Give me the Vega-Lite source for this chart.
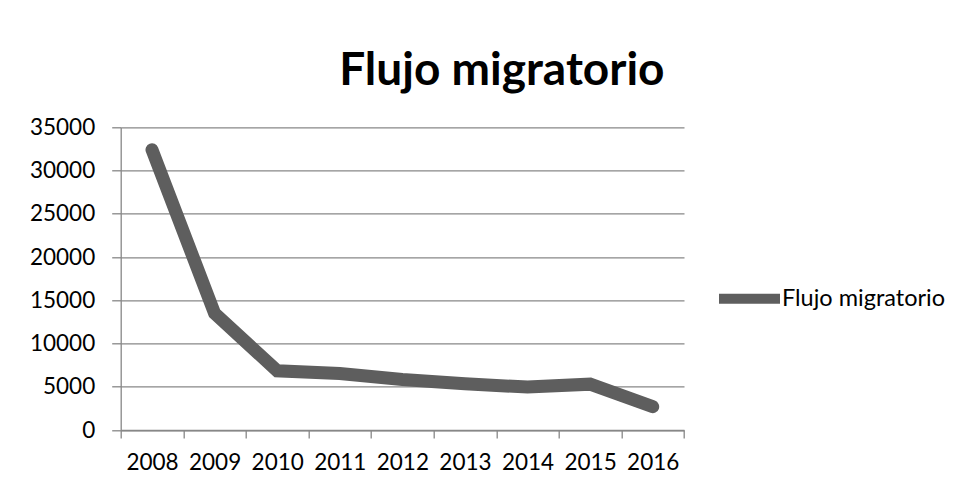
{
  "$schema": "https://vega.github.io/schema/vega-lite/v6.json",
  "autosize": "none",
  "width": 563.3,
  "height": 302.7,
  "padding": {"left": 120.7, "top": 127.3, "right": 283, "bottom": 58},
  "background": "white",
  "title": {
    "text": "Flujo migratorio",
    "font": "Lato",
    "fontSize": 46,
    "fontWeight": "bold",
    "color": "#000000",
    "anchor": "middle",
    "dx": 99.5,
    "baseline": "alphabetic",
    "offset": -15
  },
  "data": {
    "values": [
      {"anio": "2008", "valor": 32400, "serie": "Flujo migratorio"},
      {"anio": "2009", "valor": 13500, "serie": "Flujo migratorio"},
      {"anio": "2010", "valor": 6850, "serie": "Flujo migratorio"},
      {"anio": "2011", "valor": 6540, "serie": "Flujo migratorio"},
      {"anio": "2012", "valor": 5850, "serie": "Flujo migratorio"},
      {"anio": "2013", "valor": 5350, "serie": "Flujo migratorio"},
      {"anio": "2014", "valor": 4960, "serie": "Flujo migratorio"},
      {"anio": "2015", "valor": 5300, "serie": "Flujo migratorio"},
      {"anio": "2016", "valor": 2690, "serie": "Flujo migratorio"}
    ]
  },
  "mark": {"type": "line", "strokeWidth": 13, "strokeCap": "round", "strokeJoin": "miter"},
  "encoding": {
    "x": {
      "field": "anio",
      "type": "ordinal",
      "bandPosition": 0.5,
      "scale": {"type": "band", "paddingInner": 0, "paddingOuter": 0},
      "axis": {
        "title": null,
        "labelAngle": 0,
        "tickBand": "extent",
        "grid": false,
        "domainColor": "#878787",
        "domainWidth": 1.3,
        "tickColor": "#878787",
        "tickWidth": 1.3,
        "tickSize": 8,
        "labelPadding": 13,
        "labelFont": "Lato",
        "labelFontSize": 22.5,
        "labelColor": "#000000"
      }
    },
    "y": {
      "field": "valor",
      "type": "quantitative",
      "scale": {"domain": [0, 35000], "nice": false},
      "axis": {
        "title": null,
        "values": [0, 5000, 10000, 15000, 20000, 25000, 30000, 35000],
        "format": "d",
        "grid": true,
        "gridColor": "#878787",
        "gridWidth": 1.3,
        "domainColor": "#878787",
        "domainWidth": 1.3,
        "tickColor": "#878787",
        "tickWidth": 1.3,
        "tickSize": 9,
        "labelPadding": 17,
        "labelFont": "Lato",
        "labelFontSize": 22.5,
        "labelColor": "#000000"
      }
    },
    "color": {
      "field": "serie",
      "type": "nominal",
      "scale": {"range": ["#5e5e5e"]},
      "legend": {
        "title": null,
        "orient": "none",
        "legendX": 593.3,
        "legendY": 136,
        "padding": 0,
        "symbolType": "stroke",
        "symbolSize": 3721,
        "symbolStrokeWidth": 10,
        "labelOffset": -3,
        "labelLimit": 400,
        "labelFont": "Lato",
        "labelFontSize": 23.5,
        "labelColor": "#000000"
      }
    }
  },
  "config": {
    "view": {"stroke": null}
  }
}
